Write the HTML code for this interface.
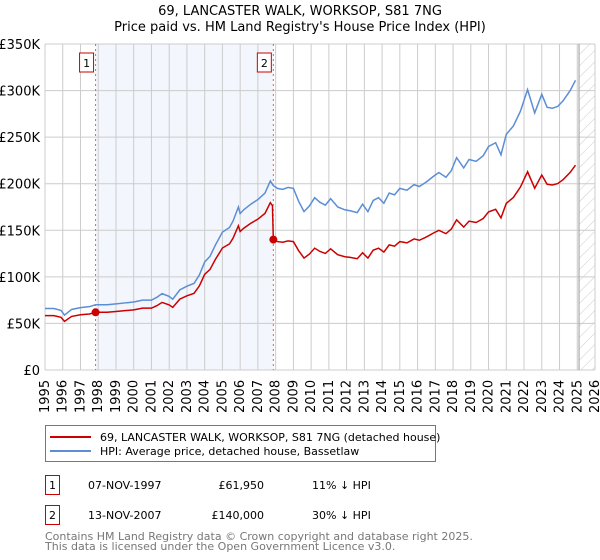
<!DOCTYPE html>
<html><head><meta charset="utf-8"><style>
body{margin:0;background:#fff;font-family:"DejaVu Sans","Liberation Sans",sans-serif;}
svg{display:block}
</style></head><body>
<svg id="c" width="600" height="560" font-family="DejaVu Sans, Liberation Sans, sans-serif"></svg>
<script>
const years=[1995,1996,1997,1998,1999,2000,2001,2002,2003,2004,2005,2006,2007,2008,2009,2010,2011,2012,2013,2014,2015,2016,2017,2018,2019,2020,2021,2022,2023,2024,2025,2026];
const yTicks=[0,50,100,150,200,250,300,350];
const yTickLabels=["£0","£50K","£100K","£150K","£200K","£250K","£300K","£350K"];
const hpiT=[1995.0,1995.5,1995.9,1996.1,1996.5,1997.0,1997.5,1997.85,1998.5,1999.0,1999.5,2000.0,2000.5,2001.0,2001.3,2001.6,2002.0,2002.2,2002.6,2003.0,2003.4,2003.7,2004.0,2004.3,2004.6,2005.0,2005.4,2005.6,2005.9,2006.0,2006.2,2006.6,2007.0,2007.4,2007.7,2007.87,2008.1,2008.4,2008.7,2009.0,2009.3,2009.6,2009.9,2010.2,2010.5,2010.8,2011.1,2011.5,2011.9,2012.2,2012.6,2012.9,2013.2,2013.5,2013.8,2014.1,2014.4,2014.7,2015.0,2015.4,2015.8,2016.1,2016.5,2016.9,2017.2,2017.6,2017.9,2018.2,2018.6,2018.9,2019.3,2019.7,2020.0,2020.4,2020.7,2021.0,2021.4,2021.8,2022.2,2022.6,2023.0,2023.3,2023.6,2023.9,2024.2,2024.6,2024.9,2025.1];
const hpiV=[66,66,64,59,65,67,68,70,70,71,72,73,75,75,78,82,79,76,86,90,93,102,116,122,134,148,153,160,175,168,172,178,183,190,203,198,195,194,196,195,181,170,176,185,180,177,184,175,172,171,169,178,170,182,185,179,190,188,195,193,199,197,202,208,212,207,214,228,217,226,224,230,240,244,231,253,262,278,301,276,296,282,281,283,289,300,311];
const sale1={t:1997.85,v:61.95};
const sale2={t:2007.87,v:140};
const X0=45,X1=595,Y0=370,Y1=44;
const sx=t=>X0+(t-1995)/(2026-1995)*(X1-X0);
const sy=v=>Y0-v/350*(Y0-Y1);
const svg=document.getElementById('c');
const NS='http://www.w3.org/2000/svg';
function mk(tag,attrs,text){const e=document.createElementNS(NS,tag);for(const k in attrs)e.setAttribute(k,attrs[k]);if(text!==undefined)e.textContent=text;svg.appendChild(e);return e;}
let e;
e=mk('text',{x:300,y:15,'text-anchor':'middle','font-size':13,fill:'#000'},'69, LANCASTER WALK, WORKSOP, S81 7NG');


e=mk('text',{x:300,y:31,'text-anchor':'middle','font-size':13,fill:'#000'},"Price paid vs. HM Land Registry's House Price Index (HPI)");


e=mk('rect',{x:sx(sale1.t),y:Y1,width:sx(sale2.t)-sx(sale1.t),height:Y0-Y1,fill:'#eef2fb',opacity:0.7});


const defs=document.createElementNS(NS,'defs');svg.appendChild(defs);
defs.innerHTML='<pattern id="h" width="8" height="8" patternUnits="userSpaceOnUse" patternTransform="rotate(45)"><line x1="0" y1="0" x2="0" y2="8" stroke="#ccc" stroke-width="1"/></pattern>';
const hx=sx(2025.1);
e=mk('rect',{x:hx,y:Y1,width:X1-hx,height:Y0-Y1,fill:'url(#h)'});


years.forEach(y=>{e=mk('line',{x1:sx(y),x2:sx(y),y1:Y1,y2:Y0,stroke:'#ccc','stroke-width':1});


e=mk('text',{transform:`translate(${sx(y)+4},413) rotate(-90)`,'font-size':13,fill:'#000'},String(y));

});
yTicks.forEach((v,i)=>{e=mk('line',{x1:X0,x2:X1,y1:sy(v),y2:sy(v),stroke:'#ccc','stroke-width':1});


e=mk('text',{x:40,y:sy(v)+5,'text-anchor':'end','font-size':13,fill:'#000'},yTickLabels[i]);

});
e=mk('line',{x1:hx,x2:hx,y1:Y1,y2:Y0,stroke:'#999','stroke-width':1});


[sale1,sale2].forEach((s,i)=>{e=mk('line',{x1:sx(s.t),x2:sx(s.t),y1:Y1,y2:Y0,stroke:'#e06060','stroke-width':1,'stroke-dasharray':'2,3'});


e=mk('rect',{x:sx(s.t)-16,y:53,width:14,height:19,fill:'#fff',stroke:'#c00','stroke-width':1});


e=mk('text',{x:sx(s.t)-9,y:67,'text-anchor':'middle','font-size':11,fill:'#000'},String(i+1));

});
function hpiAt(t){for(let i=1;i<hpiT.length;i++){if(t<=hpiT[i]){const f=(t-hpiT[i-1])/(hpiT[i]-hpiT[i-1]);return hpiV[i-1]+f*(hpiV[i]-hpiV[i-1]);}}return hpiV[hpiV.length-1];}
e=mk('polyline',{points:hpiT.map((t,i)=>sx(t)+','+sy(hpiV[i])).join(' '),fill:'none',stroke:'#5b8ed6','stroke-width':1.5});


const r1=sale1.v/hpiAt(sale1.t), r2=sale2.v/hpiAt(sale2.t);
let pts=[];
hpiT.forEach((t,i)=>{if(t<sale2.t)pts.push([t,hpiV[i]*r1]);});
pts.push([sale2.t-0.05,hpiAt(sale2.t-0.05)*r1]);
pts.push([sale2.t,sale2.v]);
hpiT.forEach((t,i)=>{if(t>sale2.t)pts.push([t,hpiV[i]*r2]);});
e=mk('polyline',{points:pts.map(p=>sx(p[0])+','+sy(p[1])).join(' '),fill:'none',stroke:'#cc0000','stroke-width':1.5});


[sale1,sale2].forEach((s,i)=>{e=mk('circle',{cx:sx(s.t),cy:sy(s.v),r:4,fill:'#cc0000'});

});
e=mk('rect',{x:45.5,y:425.5,width:390,height:36,fill:'#fff',stroke:'#777'});


e=mk('line',{x1:50,x2:91,y1:437,y2:437,stroke:'#cc0000','stroke-width':2});


e=mk('text',{x:100,y:441,'font-size':11,fill:'#000'},'69, LANCASTER WALK, WORKSOP, S81 7NG (detached house)');


e=mk('line',{x1:50,x2:91,y1:451,y2:451,stroke:'#5b8ed6','stroke-width':2});


e=mk('text',{x:100,y:455,'font-size':11,fill:'#000'},'HPI: Average price, detached house, Bassetlaw');


const rows=[['1','07-NOV-1997','£61,950','11% ↓ HPI',476],['2','13-NOV-2007','£140,000','30% ↓ HPI',506]];
rows.forEach(r=>{const y=r[4];
e=mk('rect',{x:45.5,y:y-0.5,width:14,height:19,fill:'#fff',stroke:'#c00'});


e=mk('text',{x:52.5,y:y+13,'text-anchor':'middle','font-size':11},r[0]);


e=mk('text',{x:88,y:y+13,'font-size':11},r[1]);


e=mk('text',{x:264,y:y+13,'text-anchor':'end','font-size':11},r[2]);


e=mk('text',{x:312,y:y+13,'font-size':11},r[3]);

});
e=mk('text',{x:45,y:540,'font-size':11,fill:'#777'},'Contains HM Land Registry data © Crown copyright and database right 2025.');


e=mk('text',{x:45,y:550,'font-size':11,fill:'#777'},'This data is licensed under the Open Government Licence v3.0.');


</script>
</body></html>
